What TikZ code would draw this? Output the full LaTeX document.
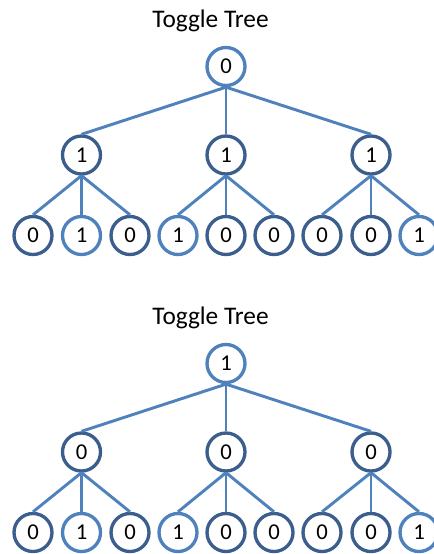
\documentclass[tikz,border=0pt]{standalone}
\usepackage{fontspec}
\setmainfont{Carlito}

\definecolor{bitlight}{HTML}{4F81BD}
\definecolor{bitdark}{HTML}{3B5E8C}

\tikzset{
	bit/.style={circle, line width=2.5pt, minimum size=28.5pt, inner sep=0pt, font=\fontsize{17}{20}\selectfont},
	hi/.style={bit, draw=bitlight},
	lo/.style={bit, draw=bitdark},
	link/.style={draw=bitlight, line width=2.2pt},
	title/.style={anchor=base, font=\fontsize{19}{23}\selectfont}
}

\begin{document}
\begin{tikzpicture}[x=0.75pt, y=-0.75pt]
	\useasboundingbox (0,0) rectangle (434,554);

	% first tree, root at 0
	\node[title] (ta) at (210.5,27) {Toggle Tree};
	\node[hi] (a) at (226,66.5) {0};
	\node[lo] (a1) at (81.5,155) {1};
	\node[lo] (a2) at (226,155) {1};
	\node[lo] (a3) at (371,155) {1};
	\node[lo] (a11) at (33,235.5) {0};
	\node[hi] (a12) at (81.5,235.5) {1};
	\node[lo] (a13) at (130,235.5) {0};
	\node[hi] (a21) at (178,235.5) {1};
	\node[lo] (a22) at (226,235.5) {0};
	\node[lo] (a23) at (274,235.5) {0};
	\node[lo] (a31) at (322,235.5) {0};
	\node[lo] (a32) at (371,235.5) {0};
	\node[hi] (a33) at (419,235.5) {1};
	\foreach \p in {1,2,3}{
		\draw[link] (a.south) -- (a\p.north);
		\foreach \c in {1,2,3}
			\draw[link] (a\p.south) -- (a\p\c.north);
	}

	% second tree, root toggled to 1
	\node[title] (tb) at (210.5,324) {Toggle Tree};
	\node[hi] (b) at (226,363.5) {1};
	\node[lo] (b1) at (81.5,452) {0};
	\node[lo] (b2) at (226,452) {0};
	\node[lo] (b3) at (371,452) {0};
	\node[lo] (b11) at (33,532.5) {0};
	\node[hi] (b12) at (81.5,532.5) {1};
	\node[lo] (b13) at (130,532.5) {0};
	\node[hi] (b21) at (178,532.5) {1};
	\node[lo] (b22) at (226,532.5) {0};
	\node[lo] (b23) at (274,532.5) {0};
	\node[lo] (b31) at (322,532.5) {0};
	\node[lo] (b32) at (371,532.5) {0};
	\node[hi] (b33) at (419,532.5) {1};
	\foreach \p in {1,2,3}{
		\draw[link] (b.south) -- (b\p.north);
		\foreach \c in {1,2,3}
			\draw[link] (b\p.south) -- (b\p\c.north);
	}
\end{tikzpicture}
\end{document}
